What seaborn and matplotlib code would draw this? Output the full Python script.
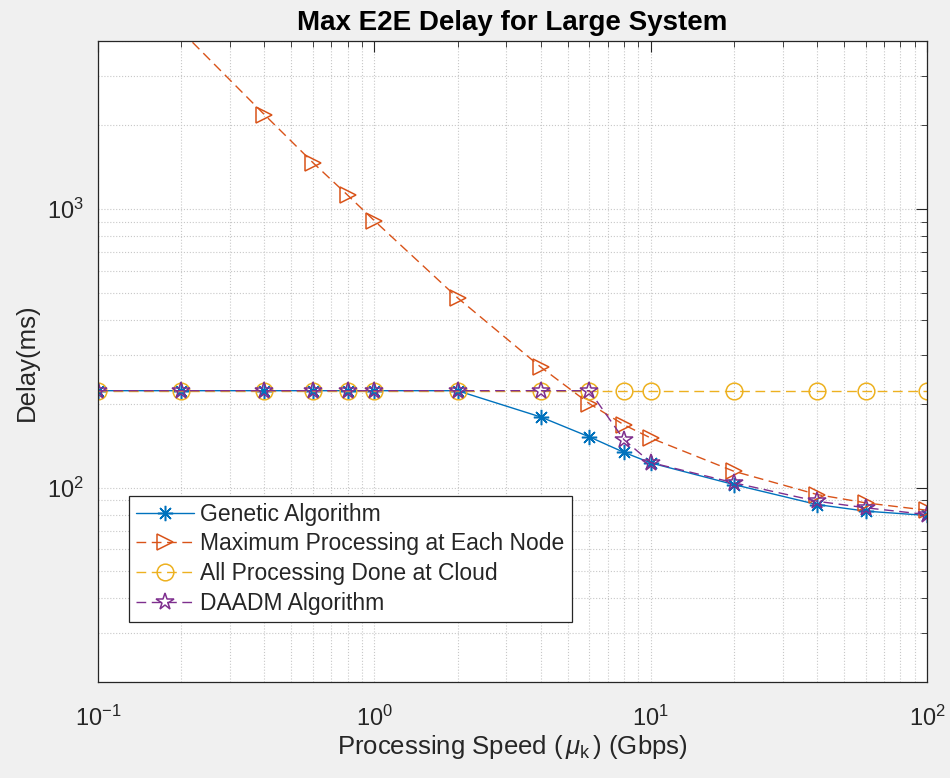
import numpy as np
import pandas as pd
import matplotlib
matplotlib.use("Agg")
import matplotlib.pyplot as plt
import seaborn as sns
from matplotlib.ticker import LogLocator, NullFormatter

# ---- data ----
speed = [0.1, 0.2, 0.4, 0.6, 0.8, 1, 2, 4, 6, 8, 10, 20, 40, 60, 100]
genetic = [222.7, 222.7, 222.7, 222.7, 222.7, 222.7, 222.7, 179.2, 152.0, 133.8, 122.6, 102.5, 86.9, 82.3, 79.4]
max_proc = [8700, 4360, 2183, 1466, 1122, 908, 480, 270.7, 200.0, 168.0, 150.6, 114.4, 94.4, 88.1, 82.9]
cloud = [222.7] * 15
daadm = [222.7, 222.7, 222.7, 222.7, 222.7, 222.7, 222.7, 222.7, 222.7, 148.6, 123.0, 104.0, 89.3, 84.6, 80.0]

labels = ["Genetic Algorithm", "Maximum Processing at Each Node",
          "All Processing Done at Cloud", "DAADM Algorithm"]
title = "Max E2E Delay for Large System"
xlabel = r"Processing Speed ($\,\mu_{\mathrm{k}}\,$) (Gbps)"
ylabel = "Delay(ms)"

sns.set_style("white")
plt.rcParams['font.family'] = ['Liberation Sans', 'DejaVu Sans']
plt.rcParams['mathtext.fontset'] = 'custom'
plt.rcParams['mathtext.rm'] = 'Liberation Sans'
plt.rcParams['mathtext.it'] = 'Liberation Sans:italic'

fig = plt.figure(figsize=(9.5, 7.78), dpi=100)
fig.patch.set_facecolor('#f0f0f0')
ax = fig.add_axes([0.103, 0.123, 0.873, 0.824])
ax.set_facecolor('white')
ax.set_xscale('log')
ax.set_yscale('log')

series = [
    (genetic, labels[0], '#0072BD', (8, 2, 0), '-', 11),
    (max_proc, labels[1], '#D95319', '>', '--', 12),
    (cloud, labels[2], '#EDB120', 'o', '--', 12),
    (daadm, labels[3], '#7E2F8E', '*', '--', 13),
]
for vals, lab, col, mk, ls, ms in series:
    sns.lineplot(x=speed, y=vals, ax=ax, color=col, marker=mk, linestyle=ls,
                 markersize=ms, markerfacecolor='none', markeredgecolor=col,
                 markeredgewidth=1.1, linewidth=1.0, label=lab, sort=False)
    if ls == '--':
        ax.get_lines()[-1].set_dashes([7, 4])

ax.set_xlim(0.1, 100)
ax.set_ylim(20, 4000)

ax.xaxis.set_major_locator(LogLocator(base=10, numticks=10))
ax.xaxis.set_minor_locator(LogLocator(base=10, subs=np.arange(2, 10), numticks=20))
ax.yaxis.set_major_locator(LogLocator(base=10, numticks=10))
ax.yaxis.set_minor_locator(LogLocator(base=10, subs=np.arange(2, 10), numticks=20))
ax.yaxis.set_minor_formatter(NullFormatter())
ax.xaxis.set_minor_formatter(NullFormatter())

ax.grid(True, which='both', linestyle=':', color='#c8c8c8', linewidth=0.8)
ax.tick_params(which='both', direction='in', top=True, right=True, colors='#262626',
               labelsize=17, labelcolor='#262626')
ax.tick_params(axis='x', which='major', length=8, width=0.8, pad=17)
ax.tick_params(axis='y', which='major', length=8, width=0.8, pad=10)
ax.tick_params(which='minor', length=4, width=0.6)
for s in ax.spines.values():
    s.set_color('#262626')
    s.set_linewidth(0.9)

ax.set_title(title, fontsize=20, fontweight='bold', pad=8, color='black')
ax.set_xlabel(xlabel, fontsize=18.5, color='#262626', labelpad=1)
ax.set_ylabel(ylabel, fontsize=18.5, color='#262626', labelpad=6)

leg = ax.legend(loc='lower left', bbox_to_anchor=(0.038, 0.094), fontsize=16.5,
                frameon=True, fancybox=False, edgecolor='#262626', framealpha=1,
                handlelength=2.5, borderpad=0.3, labelspacing=0.3,
                handletextpad=0.3, borderaxespad=0)
leg.get_frame().set_linewidth(0.9)

fig.savefig('out.png', dpi=100, facecolor=fig.get_facecolor())
